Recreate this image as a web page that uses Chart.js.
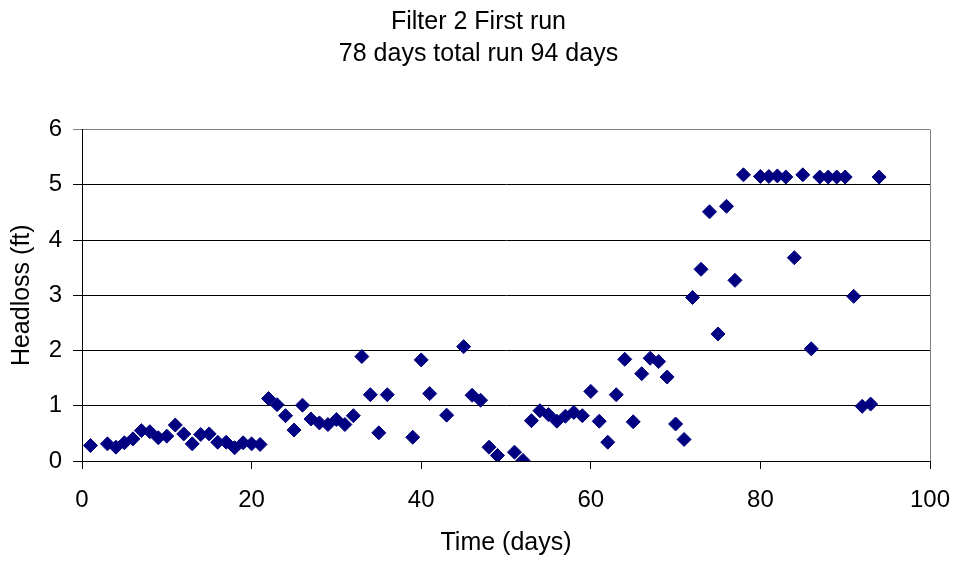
<!DOCTYPE html>
<html>
<head>
<meta charset="utf-8">
<script src="https://cdn.jsdelivr.net/npm/chart.js@4.4.1/dist/chart.umd.min.js"></script>
<style>
  html, body { margin: 0; padding: 0; background: #fff; }
  #wrap { width: 957px; height: 567px; }
</style>
</head>
<body>
<div id="wrap"><canvas id="chart" width="957" height="567"></canvas></div>
<script>
// readings
const days = [1, 3, 4, 5, 6, 7, 8, 9, 10, 11, 12, 13, 14, 15, 16, 17, 18, 19, 20, 21,
  22, 23, 24, 25, 26, 27, 28, 29, 30, 31, 32, 33, 34, 35, 36, 39, 40, 41, 43, 45,
  46, 47, 48, 49, 51, 52, 53, 54, 55, 56, 57, 58, 59, 60, 61, 62, 63, 64, 65, 66,
  67, 68, 69, 70, 71, 72, 73, 74, 75, 76, 77, 78, 80, 81, 82, 83, 84, 85, 86, 87,
  88, 89, 90, 91, 92, 93, 94];
const headloss = [0.28, 0.31, 0.25, 0.33, 0.40, 0.55, 0.53, 0.42, 0.45, 0.65, 0.49, 0.31, 0.48, 0.49, 0.34, 0.34, 0.24, 0.33, 0.31, 0.30,
  1.13, 1.02, 0.82, 0.56, 1.01, 0.76, 0.69, 0.66, 0.75, 0.66, 0.82, 1.89, 1.20, 0.51, 1.20, 0.43, 1.83, 1.22, 0.83, 2.07,
  1.19, 1.10, 0.25, 0.10, 0.16, 0.01, 0.73, 0.91, 0.84, 0.72, 0.81, 0.88, 0.82, 1.26, 0.72, 0.34, 1.20, 1.84, 0.71, 1.58,
  1.86, 1.80, 1.52, 0.67, 0.39, 2.96, 3.47, 4.51, 2.30, 4.61, 3.27, 5.18, 5.15, 5.15, 5.16, 5.14, 3.68, 5.18, 2.03, 5.14,
  5.14, 5.14, 5.14, 2.98, 0.99, 1.03, 5.14];
const titleLines = ['Filter 2 First run', '78 days total run 94 days'];
const xTitle = 'Time (days)';
const yTitle = 'Headloss (ft)';

const FONT = 'Liberation Sans, Arial, sans-serif';

// gray frame on the right side of the plot area
const frame = {
  id: 'frame',
  beforeDatasetsDraw(chart) {
    const { ctx, chartArea: a } = chart;
    ctx.save();
    ctx.strokeStyle = '#808080';
    ctx.lineWidth = 1;
    ctx.beginPath();
    ctx.moveTo(Math.round(a.right) + 0.5, a.top);
    ctx.lineTo(Math.round(a.right) + 0.5, a.bottom);
    ctx.stroke();
    ctx.restore();
  }
};

new Chart(document.getElementById('chart'), {
  type: 'scatter',
  data: {
    datasets: [{
      data: days.map((d, i) => ({ x: d, y: headloss[i] })),
      pointStyle: 'rectRot',
      pointRadius: 7,
      pointHoverRadius: 7,
      backgroundColor: '#000080',
      borderColor: '#000080',
      borderWidth: 1
    }]
  },
  options: {
    responsive: false,
    animation: false,
    layout: { padding: 0 },
    plugins: {
      legend: { display: false },
      tooltip: { enabled: false },
      title: {
        display: true,
        text: titleLines,
        color: '#000',
        font: { family: FONT, size: 25, weight: 'normal', lineHeight: 1.27 },
        padding: { top: 6, bottom: 60 }
      }
    },
    scales: {
      x: {
        type: 'linear',
        min: 0,
        max: 100,
        afterFit: s => {
          s.height = 106;
          s.paddingLeft = 0;
          s.paddingRight = 27; // space right of the plot, as in the reference
        },
        ticks: { stepSize: 20, color: '#000', padding: 17, font: { family: FONT, size: 24 } },
        grid: { drawOnChartArea: false, tickLength: 8, color: '#000' },
        border: { color: '#000' },
        title: {
          display: true,
          text: xTitle,
          color: '#000',
          font: { family: FONT, size: 25 },
          padding: { top: 0, bottom: 9 }
        }
      },
      y: {
        min: 0,
        max: 6,
        afterFit: s => { s.width = 82; },
        ticks: { stepSize: 1, color: '#000', padding: 11, font: { family: FONT, size: 24 } },
        grid: {
          tickLength: 9,
          color: c => (c.tick && c.tick.value === 6 ? '#808080' : '#000')
        },
        border: { color: '#000' },
        title: {
          display: true,
          text: yTitle,
          color: '#000',
          font: { family: FONT, size: 25 },
          padding: { top: 7, bottom: 0 }
        }
      }
    }
  },
  plugins: [frame]
});
</script>
</body>
</html>
